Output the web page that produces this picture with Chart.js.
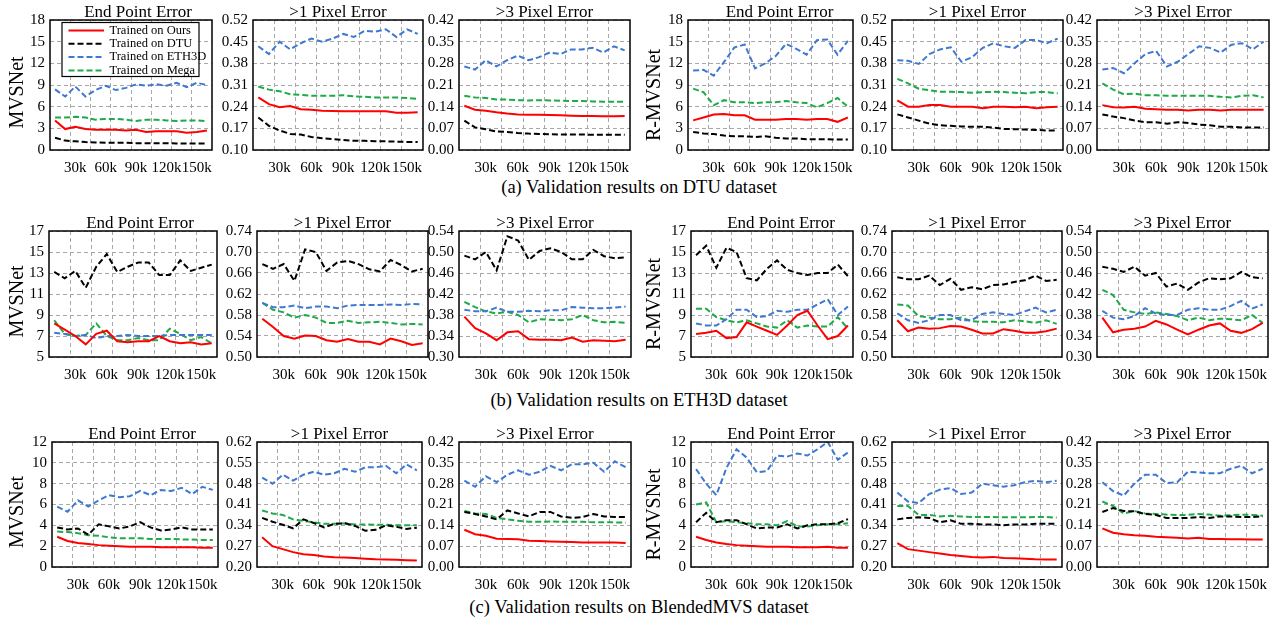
<!DOCTYPE html>
<html>
<head>
<meta charset="utf-8">
<script src="https://cdn.jsdelivr.net/npm/chart.js@4.4.0/dist/chart.umd.min.js"></script>
<style>
  body { margin: 0; background: #fff; width: 1278px; height: 619px; overflow: hidden; position: relative; font-family: "Liberation Serif", serif; }
  canvas { position: absolute; }
  .cap { position: absolute; left: 0; width: 1278px; text-align: center; font-size: 18.5px; line-height: 20px; color: #000; }
</style>
</head>
<body>
<div class="cap" style="top:177px">(a) Validation results on DTU dataset</div>
<div class="cap" style="top:390px">(b) Validation results on ETH3D dataset</div>
<div class="cap" style="top:597px">(c) Validation results on BlendedMVS dataset</div>
<script>
// iterations (k)
const iterations = [10, 20, 30, 40, 50, 60, 70, 80, 90, 100, 110, 120, 130, 140, 150, 160];
const xTickValues = [30, 60, 90, 120, 150];
const xGridValues = [25, 45, 65, 85, 105, 125, 145];

// y tick labels
const ticksEpeDtu = [0, 3, 6, 9, 12, 15, 18];
const ticksPx1Dtu = [0.10, 0.17, 0.24, 0.31, 0.38, 0.45, 0.52];
const ticksPx3Dtu = [0.00, 0.07, 0.14, 0.21, 0.28, 0.35, 0.42];
const ticksEpeEth = [5, 7, 9, 11, 13, 15, 17];
const ticksPx1Eth = [0.50, 0.54, 0.58, 0.62, 0.66, 0.70, 0.74];
const ticksPx3Eth = [0.30, 0.34, 0.38, 0.42, 0.46, 0.50, 0.54];
const ticksEpeBlend = [0, 2, 4, 6, 8, 10, 12];
const ticksPx1Blend = [0.20, 0.27, 0.34, 0.41, 0.48, 0.55, 0.62];
const ticksPx3Blend = [0.00, 0.07, 0.14, 0.21, 0.28, 0.35, 0.42];

const seriesNames = ['Trained on Ours', 'Trained on DTU', 'Trained on ETH3D', 'Trained on Mega'];

// (a) DTU - MVSNet
const dtuMvsEpe_ours  = [4.1, 2.9, 3.2, 2.9, 2.8, 2.8, 2.8, 2.7, 2.8, 2.5, 2.6, 2.6, 2.6, 2.4, 2.5, 2.7];
const dtuMvsEpe_dtu   = [1.7, 1.3, 1.2, 1.1, 1.05, 1.0, 1.0, 1.0, 0.95, 0.95, 0.95, 0.95, 0.9, 0.9, 0.9, 0.9];
const dtuMvsEpe_eth3d = [8.4, 7.4, 8.8, 7.4, 8.3, 8.9, 8.3, 8.6, 9.1, 8.9, 9.1, 8.9, 9.3, 8.7, 9.3, 9.0];
const dtuMvsEpe_mega  = [4.5, 4.5, 4.6, 4.5, 4.2, 4.3, 4.3, 4.2, 4.0, 4.2, 4.2, 4.1, 4.0, 4.1, 4.1, 4.0];
const dtuMvsPx1_ours  = [0.27, 0.248, 0.238, 0.242, 0.232, 0.23, 0.227, 0.226, 0.225, 0.225, 0.225, 0.225, 0.225, 0.22, 0.22, 0.222];
const dtuMvsPx1_dtu   = [0.205, 0.178, 0.163, 0.152, 0.15, 0.142, 0.138, 0.135, 0.132, 0.13, 0.13, 0.128, 0.128, 0.127, 0.126, 0.126];
const dtuMvsPx1_eth3d = [0.435, 0.41, 0.45, 0.425, 0.445, 0.46, 0.45, 0.46, 0.475, 0.465, 0.485, 0.482, 0.49, 0.465, 0.49, 0.475];
const dtuMvsPx1_mega  = [0.305, 0.295, 0.29, 0.28, 0.278, 0.275, 0.275, 0.275, 0.277, 0.273, 0.272, 0.27, 0.27, 0.27, 0.268, 0.265];
const dtuMvsPx3_ours  = [0.143, 0.13, 0.127, 0.122, 0.118, 0.115, 0.114, 0.114, 0.113, 0.112, 0.111, 0.11, 0.11, 0.109, 0.109, 0.11];
const dtuMvsPx3_dtu   = [0.095, 0.073, 0.067, 0.06, 0.058, 0.055, 0.053, 0.052, 0.051, 0.05, 0.05, 0.05, 0.049, 0.049, 0.049, 0.049];
const dtuMvsPx3_eth3d = [0.27, 0.26, 0.29, 0.27, 0.29, 0.305, 0.29, 0.30, 0.315, 0.31, 0.325, 0.325, 0.33, 0.315, 0.335, 0.322];
const dtuMvsPx3_mega  = [0.175, 0.17, 0.168, 0.163, 0.163, 0.161, 0.16, 0.161, 0.16, 0.159, 0.158, 0.158, 0.157, 0.156, 0.156, 0.156];
// (a) DTU - R-MVSNet
const dtuRmvsEpe_ours  = [4.1, 4.5, 4.9, 5.0, 4.8, 4.8, 4.2, 4.2, 4.2, 4.3, 4.3, 4.2, 4.3, 4.3, 3.9, 4.5];
const dtuRmvsEpe_dtu   = [2.5, 2.3, 2.2, 2.0, 1.9, 1.9, 1.8, 1.9, 1.7, 1.6, 1.6, 1.5, 1.5, 1.5, 1.45, 1.45];
const dtuRmvsEpe_eth3d = [11.0, 11.1, 10.3, 12.2, 14.2, 14.6, 11.3, 12.0, 13.0, 14.7, 14.0, 13.2, 15.2, 15.3, 13.2, 15.1];
const dtuRmvsEpe_mega  = [8.5, 8.0, 6.2, 6.9, 6.6, 6.6, 6.5, 6.6, 6.6, 6.8, 6.6, 6.5, 5.9, 6.5, 7.2, 6.0];
const dtuRmvsPx1_ours  = [0.26, 0.24, 0.24, 0.245, 0.245, 0.24, 0.24, 0.24, 0.235, 0.24, 0.24, 0.238, 0.24, 0.235, 0.238, 0.24];
const dtuRmvsPx1_dtu   = [0.215, 0.205, 0.195, 0.185, 0.18, 0.178, 0.176, 0.175, 0.175, 0.172, 0.168, 0.167, 0.166, 0.165, 0.163, 0.163];
const dtuRmvsPx1_eth3d = [0.39, 0.388, 0.378, 0.41, 0.425, 0.432, 0.385, 0.40, 0.43, 0.445, 0.435, 0.43, 0.455, 0.455, 0.445, 0.46];
const dtuRmvsPx1_mega  = [0.33, 0.315, 0.298, 0.293, 0.288, 0.288, 0.287, 0.285, 0.287, 0.288, 0.287, 0.285, 0.283, 0.287, 0.287, 0.283];
const dtuRmvsPx3_ours  = [0.145, 0.138, 0.137, 0.14, 0.133, 0.132, 0.13, 0.13, 0.128, 0.13, 0.13, 0.128, 0.13, 0.13, 0.13, 0.13];
const dtuRmvsPx3_dtu   = [0.115, 0.108, 0.103, 0.095, 0.09, 0.09, 0.085, 0.09, 0.087, 0.082, 0.08, 0.075, 0.075, 0.073, 0.073, 0.073];
const dtuRmvsPx3_eth3d = [0.26, 0.265, 0.248, 0.28, 0.31, 0.32, 0.27, 0.285, 0.31, 0.335, 0.33, 0.315, 0.34, 0.345, 0.325, 0.35];
const dtuRmvsPx3_mega  = [0.215, 0.195, 0.18, 0.182, 0.177, 0.177, 0.175, 0.175, 0.175, 0.175, 0.175, 0.172, 0.17, 0.175, 0.177, 0.17];

// (b) ETH3D - MVSNet
const ethMvsEpe_ours  = [8.2, 7.6, 7.0, 6.2, 7.2, 7.5, 6.5, 6.4, 6.5, 6.5, 7.0, 6.5, 6.3, 6.4, 6.2, 6.3];
const ethMvsEpe_dtu   = [13.1, 12.5, 13.2, 11.6, 13.6, 14.8, 13.1, 13.6, 14.0, 14.0, 12.8, 12.8, 14.2, 13.2, 13.5, 13.8];
const ethMvsEpe_eth3d = [7.3, 7.2, 7.0, 7.1, 6.8, 7.0, 7.0, 7.1, 7.0, 7.0, 7.0, 7.1, 7.1, 7.1, 7.1, 7.1];
const ethMvsEpe_mega  = [8.5, 7.2, 7.0, 7.1, 8.2, 7.0, 6.6, 6.6, 6.8, 6.6, 6.6, 7.7, 7.2, 6.6, 6.9, 6.3];
const ethMvsPx1_ours  = [0.573, 0.557, 0.54, 0.535, 0.541, 0.54, 0.532, 0.529, 0.534, 0.529, 0.529, 0.524, 0.535, 0.53, 0.523, 0.526];
const ethMvsPx1_dtu   = [0.677, 0.668, 0.677, 0.645, 0.705, 0.70, 0.664, 0.68, 0.683, 0.677, 0.667, 0.663, 0.685, 0.675, 0.663, 0.668];
const ethMvsPx1_eth3d = [0.603, 0.595, 0.595, 0.598, 0.593, 0.596, 0.596, 0.593, 0.598, 0.599, 0.599, 0.599, 0.60, 0.599, 0.601, 0.60];
const ethMvsPx1_mega  = [0.603, 0.59, 0.585, 0.575, 0.58, 0.575, 0.565, 0.565, 0.569, 0.565, 0.566, 0.567, 0.565, 0.562, 0.563, 0.562];
const ethMvsPx3_ours  = [0.377, 0.355, 0.345, 0.332, 0.347, 0.349, 0.334, 0.333, 0.333, 0.332, 0.337, 0.329, 0.332, 0.331, 0.33, 0.333];
const ethMvsPx3_dtu   = [0.493, 0.486, 0.50, 0.465, 0.53, 0.522, 0.485, 0.502, 0.507, 0.50, 0.486, 0.486, 0.504, 0.492, 0.488, 0.49];
const ethMvsPx3_eth3d = [0.39, 0.387, 0.387, 0.394, 0.386, 0.386, 0.388, 0.387, 0.389, 0.389, 0.395, 0.394, 0.393, 0.393, 0.394, 0.396];
const ethMvsPx3_mega  = [0.405, 0.395, 0.387, 0.383, 0.386, 0.38, 0.366, 0.372, 0.371, 0.37, 0.372, 0.38, 0.37, 0.366, 0.367, 0.365];
// (b) ETH3D - R-MVSNet
const ethRmvsEpe_ours  = [7.2, 7.3, 7.5, 6.8, 6.9, 8.3, 7.9, 7.5, 7.1, 8.0, 9.0, 9.4, 8.0, 6.7, 7.0, 8.0];
const ethRmvsEpe_dtu   = [14.7, 15.6, 13.5, 15.4, 15.0, 12.5, 12.3, 13.4, 14.2, 13.3, 13.0, 12.8, 13.0, 13.0, 13.8, 12.7];
const ethRmvsEpe_eth3d = [8.2, 8.0, 8.0, 8.6, 9.5, 9.5, 8.8, 8.9, 9.4, 9.3, 9.5, 9.5, 10.0, 10.5, 9.0, 9.8];
const ethRmvsEpe_mega  = [9.6, 9.6, 8.8, 8.5, 8.3, 8.5, 8.2, 7.9, 7.8, 8.5, 7.8, 8.0, 7.9, 7.9, 8.8, 7.7];
const ethRmvsPx1_ours  = [0.57, 0.549, 0.556, 0.554, 0.555, 0.559, 0.558, 0.552, 0.545, 0.545, 0.553, 0.55, 0.546, 0.546, 0.549, 0.554];
const ethRmvsPx1_dtu   = [0.652, 0.648, 0.648, 0.655, 0.637, 0.649, 0.628, 0.633, 0.629, 0.637, 0.638, 0.643, 0.646, 0.655, 0.645, 0.647];
const ethRmvsPx1_eth3d = [0.583, 0.57, 0.565, 0.57, 0.58, 0.58, 0.57, 0.57, 0.582, 0.585, 0.582, 0.58, 0.587, 0.594, 0.585, 0.59];
const ethRmvsPx1_mega  = [0.60, 0.598, 0.578, 0.575, 0.572, 0.572, 0.575, 0.568, 0.567, 0.567, 0.566, 0.57, 0.568, 0.565, 0.57, 0.563];
const ethRmvsPx3_ours  = [0.375, 0.347, 0.352, 0.354, 0.358, 0.369, 0.362, 0.352, 0.343, 0.352, 0.36, 0.364, 0.35, 0.346, 0.353, 0.365];
const ethRmvsPx3_dtu   = [0.472, 0.468, 0.462, 0.472, 0.455, 0.46, 0.434, 0.44, 0.428, 0.442, 0.45, 0.448, 0.45, 0.462, 0.452, 0.45];
const ethRmvsPx3_eth3d = [0.388, 0.375, 0.372, 0.378, 0.393, 0.383, 0.38, 0.38, 0.39, 0.393, 0.39, 0.39, 0.397, 0.407, 0.392, 0.40];
const ethRmvsPx3_mega  = [0.428, 0.418, 0.39, 0.385, 0.382, 0.385, 0.382, 0.378, 0.37, 0.375, 0.37, 0.373, 0.372, 0.37, 0.38, 0.365];

// (c) BlendedMVS - MVSNet
const blendMvsEpe_ours  = [2.9, 2.5, 2.3, 2.2, 2.1, 2.05, 2.0, 1.95, 1.95, 1.95, 1.9, 1.9, 1.9, 1.9, 1.85, 1.85];
const blendMvsEpe_dtu   = [3.8, 3.6, 3.7, 3.1, 4.1, 3.9, 3.7, 3.9, 4.3, 3.8, 3.5, 3.6, 3.8, 3.6, 3.6, 3.6];
const blendMvsEpe_eth3d = [5.8, 5.3, 6.4, 5.8, 6.4, 6.9, 6.7, 6.8, 7.3, 6.9, 7.4, 7.3, 7.6, 7.0, 7.7, 7.4];
const blendMvsEpe_mega  = [3.4, 3.35, 3.25, 3.05, 3.0, 2.85, 2.75, 2.75, 2.75, 2.7, 2.7, 2.7, 2.65, 2.65, 2.6, 2.6];
const blendMvsPx1_ours  = [0.30, 0.27, 0.26, 0.25, 0.243, 0.24, 0.235, 0.233, 0.232, 0.23, 0.228, 0.226, 0.225, 0.224, 0.223, 0.222];
const blendMvsPx1_dtu   = [0.365, 0.352, 0.342, 0.33, 0.36, 0.348, 0.333, 0.345, 0.347, 0.338, 0.322, 0.325, 0.34, 0.335, 0.328, 0.332];
const blendMvsPx1_eth3d = [0.50, 0.48, 0.51, 0.49, 0.51, 0.52, 0.51, 0.515, 0.53, 0.52, 0.535, 0.535, 0.54, 0.515, 0.545, 0.525];
const blendMvsPx1_mega  = [0.39, 0.38, 0.375, 0.36, 0.355, 0.35, 0.345, 0.345, 0.347, 0.343, 0.343, 0.342, 0.342, 0.34, 0.34, 0.34];
const blendMvsPx3_ours  = [0.125, 0.11, 0.105, 0.095, 0.094, 0.093, 0.088, 0.087, 0.086, 0.085, 0.084, 0.082, 0.082, 0.082, 0.082, 0.081];
const blendMvsPx3_dtu   = [0.185, 0.178, 0.17, 0.16, 0.19, 0.18, 0.17, 0.185, 0.185, 0.17, 0.165, 0.168, 0.178, 0.17, 0.168, 0.168];
const blendMvsPx3_eth3d = [0.29, 0.27, 0.305, 0.285, 0.31, 0.325, 0.31, 0.32, 0.34, 0.325, 0.345, 0.345, 0.35, 0.32, 0.355, 0.335];
const blendMvsPx3_mega  = [0.188, 0.18, 0.178, 0.165, 0.16, 0.155, 0.152, 0.152, 0.153, 0.152, 0.152, 0.152, 0.15, 0.15, 0.15, 0.149];
// (c) BlendedMVS - R-MVSNet
const blendRmvsEpe_ours  = [2.9, 2.6, 2.35, 2.2, 2.1, 2.05, 2.0, 1.95, 1.95, 1.95, 1.9, 1.9, 1.9, 1.95, 1.85, 1.85];
const blendRmvsEpe_dtu   = [4.3, 5.2, 4.3, 4.5, 4.5, 4.1, 3.7, 3.8, 3.8, 4.1, 3.7, 4.0, 4.1, 4.1, 4.2, 4.6];
const blendRmvsEpe_eth3d = [9.4, 8.0, 6.9, 9.5, 11.3, 10.5, 9.1, 9.2, 10.7, 10.6, 10.9, 10.7, 11.3, 12.0, 10.3, 11.0];
const blendRmvsEpe_mega  = [6.0, 6.2, 4.3, 4.4, 4.3, 4.2, 4.1, 4.1, 4.0, 4.4, 3.9, 3.9, 4.0, 4.1, 4.1, 4.2];
const blendRmvsPx1_ours  = [0.28, 0.26, 0.255, 0.25, 0.245, 0.24, 0.237, 0.234, 0.232, 0.234, 0.23, 0.229, 0.228, 0.226, 0.225, 0.225];
const blendRmvsPx1_dtu   = [0.36, 0.365, 0.367, 0.365, 0.35, 0.357, 0.345, 0.345, 0.343, 0.343, 0.34, 0.343, 0.343, 0.345, 0.345, 0.345];
const blendRmvsPx1_eth3d = [0.45, 0.42, 0.415, 0.445, 0.46, 0.465, 0.445, 0.45, 0.48, 0.475, 0.47, 0.475, 0.485, 0.49, 0.485, 0.49];
const blendRmvsPx1_mega  = [0.405, 0.405, 0.375, 0.375, 0.37, 0.372, 0.37, 0.368, 0.368, 0.368, 0.367, 0.367, 0.367, 0.368, 0.368, 0.366];
const blendRmvsPx3_ours  = [0.13, 0.115, 0.11, 0.107, 0.105, 0.102, 0.1, 0.098, 0.096, 0.098, 0.094, 0.094, 0.093, 0.093, 0.092, 0.092];
const blendRmvsPx3_dtu   = [0.185, 0.198, 0.188, 0.187, 0.178, 0.175, 0.165, 0.165, 0.165, 0.168, 0.165, 0.17, 0.17, 0.168, 0.168, 0.17];
const blendRmvsPx3_eth3d = [0.285, 0.255, 0.24, 0.28, 0.31, 0.31, 0.282, 0.285, 0.32, 0.318, 0.315, 0.315, 0.33, 0.34, 0.315, 0.33];
const blendRmvsPx3_mega  = [0.22, 0.205, 0.18, 0.188, 0.18, 0.178, 0.176, 0.175, 0.175, 0.178, 0.176, 0.172, 0.174, 0.176, 0.175, 0.172];

// plot area placement on the page
const rowTop = [20, 231, 442];
const rowBottom = [150, 357, 567];
const colLeft = [[50, 253, 459, 688, 892, 1097], [49, 257, 459, 691, 892, 1097], [52, 257, 459, 691, 892, 1097]];
const colRight = [[212, 423, 630, 853, 1063, 1269], [217, 428, 631, 853, 1062, 1268], [218, 422, 631, 853, 1062, 1268]];
const titleShift = [7, 0, 0, 9, 0, 0];

const serif = '"Liberation Serif", "Times New Roman", serif';
const lineColors = ['#ff0000', '#000000', '#3f78d2', '#1faa48'];
const lineDashes = [[], [6, 3], [6, 3], [6, 3]];

const panels = [
  { row: 0, col: 0, title: 'End Point Error', yTitle: 'MVSNet', ticks: ticksEpeDtu, legend: true,
    series: [dtuMvsEpe_ours, dtuMvsEpe_dtu, dtuMvsEpe_eth3d, dtuMvsEpe_mega] },
  { row: 0, col: 1, title: '>1 Pixel Error', ticks: ticksPx1Dtu, series: [dtuMvsPx1_ours, dtuMvsPx1_dtu, dtuMvsPx1_eth3d, dtuMvsPx1_mega] },
  { row: 0, col: 2, title: '>3 Pixel Error', ticks: ticksPx3Dtu, series: [dtuMvsPx3_ours, dtuMvsPx3_dtu, dtuMvsPx3_eth3d, dtuMvsPx3_mega] },
  { row: 0, col: 3, title: 'End Point Error', yTitle: 'R-MVSNet', ticks: ticksEpeDtu, series: [dtuRmvsEpe_ours, dtuRmvsEpe_dtu, dtuRmvsEpe_eth3d, dtuRmvsEpe_mega] },
  { row: 0, col: 4, title: '>1 Pixel Error', ticks: ticksPx1Dtu, series: [dtuRmvsPx1_ours, dtuRmvsPx1_dtu, dtuRmvsPx1_eth3d, dtuRmvsPx1_mega] },
  { row: 0, col: 5, title: '>3 Pixel Error', ticks: ticksPx3Dtu, series: [dtuRmvsPx3_ours, dtuRmvsPx3_dtu, dtuRmvsPx3_eth3d, dtuRmvsPx3_mega] },

  { row: 1, col: 0, title: 'End Point Error', yTitle: 'MVSNet', ticks: ticksEpeEth, series: [ethMvsEpe_ours, ethMvsEpe_dtu, ethMvsEpe_eth3d, ethMvsEpe_mega] },
  { row: 1, col: 1, title: '>1 Pixel Error', ticks: ticksPx1Eth, series: [ethMvsPx1_ours, ethMvsPx1_dtu, ethMvsPx1_eth3d, ethMvsPx1_mega] },
  { row: 1, col: 2, title: '>3 Pixel Error', ticks: ticksPx3Eth, series: [ethMvsPx3_ours, ethMvsPx3_dtu, ethMvsPx3_eth3d, ethMvsPx3_mega] },
  { row: 1, col: 3, title: 'End Point Error', yTitle: 'R-MVSNet', ticks: ticksEpeEth, series: [ethRmvsEpe_ours, ethRmvsEpe_dtu, ethRmvsEpe_eth3d, ethRmvsEpe_mega] },
  { row: 1, col: 4, title: '>1 Pixel Error', ticks: ticksPx1Eth, series: [ethRmvsPx1_ours, ethRmvsPx1_dtu, ethRmvsPx1_eth3d, ethRmvsPx1_mega] },
  { row: 1, col: 5, title: '>3 Pixel Error', ticks: ticksPx3Eth, series: [ethRmvsPx3_ours, ethRmvsPx3_dtu, ethRmvsPx3_eth3d, ethRmvsPx3_mega] },

  { row: 2, col: 0, title: 'End Point Error', yTitle: 'MVSNet', ticks: ticksEpeBlend, series: [blendMvsEpe_ours, blendMvsEpe_dtu, blendMvsEpe_eth3d, blendMvsEpe_mega] },
  { row: 2, col: 1, title: '>1 Pixel Error', ticks: ticksPx1Blend, series: [blendMvsPx1_ours, blendMvsPx1_dtu, blendMvsPx1_eth3d, blendMvsPx1_mega] },
  { row: 2, col: 2, title: '>3 Pixel Error', ticks: ticksPx3Blend, series: [blendMvsPx3_ours, blendMvsPx3_dtu, blendMvsPx3_eth3d, blendMvsPx3_mega] },
  { row: 2, col: 3, title: 'End Point Error', yTitle: 'R-MVSNet', ticks: ticksEpeBlend, series: [blendRmvsEpe_ours, blendRmvsEpe_dtu, blendRmvsEpe_eth3d, blendRmvsEpe_mega] },
  { row: 2, col: 4, title: '>1 Pixel Error', ticks: ticksPx1Blend, series: [blendRmvsPx1_ours, blendRmvsPx1_dtu, blendRmvsPx1_eth3d, blendRmvsPx1_mega] },
  { row: 2, col: 5, title: '>3 Pixel Error', ticks: ticksPx3Blend, series: [blendRmvsPx3_ours, blendRmvsPx3_dtu, blendRmvsPx3_eth3d, blendRmvsPx3_mega] },
];

// black box round the plot area
const frameBox = {
  id: 'frameBox',
  afterDatasetsDraw(chart) {
    const a = chart.chartArea, ctx = chart.ctx;
    ctx.save();
    ctx.strokeStyle = '#000';
    ctx.lineWidth = 1.5;
    ctx.strokeRect(a.left, a.top, a.right - a.left, a.bottom - a.top);
    ctx.restore();
  }
};

// framed legend inside the first panel
const boxLegend = {
  id: 'boxLegend',
  afterDatasetsDraw(chart) {
    const a = chart.chartArea, ctx = chart.ctx;
    const x0 = a.left + 12, y0 = a.top + 2.5, w = 137, h = 54;
    ctx.save();
    ctx.fillStyle = '#fff';
    ctx.fillRect(x0, y0, w, h);
    ctx.strokeStyle = '#000';
    ctx.lineWidth = 1.2;
    ctx.strokeRect(x0, y0, w, h);
    chart.data.datasets.forEach((ds, k) => {
      const y = y0 + 8 + k * 13.3;
      ctx.strokeStyle = ds.borderColor;
      ctx.lineWidth = ds.borderWidth;
      ctx.setLineDash(ds.borderDash);
      ctx.beginPath();
      ctx.moveTo(x0 + 6.5, y);
      ctx.lineTo(x0 + 42, y);
      ctx.stroke();
      ctx.setLineDash([]);
      ctx.fillStyle = '#000';
      ctx.font = '12.5px ' + serif;
      ctx.textBaseline = 'middle';
      ctx.fillText(ds.label, x0 + 47.5, y);
    });
    ctx.restore();
  }
};

function makePanel(p) {
  const left = colLeft[p.row][p.col], right = colRight[p.row][p.col];
  const top = rowTop[p.row], bottom = rowBottom[p.row];
  const lm = 48, rm = 48 + 2 * titleShift[p.col], tm = 24, bm = 30;
  const w = right - left + lm + rm, h = bottom - top + tm + bm;
  const cv = document.createElement('canvas');
  cv.width = w; cv.height = h;
  cv.style.left = (left - lm) + 'px';
  cv.style.top = (top - tm) + 'px';
  cv.style.width = w + 'px';
  cv.style.height = h + 'px';
  document.body.appendChild(cv);

  const tks = p.ticks;
  const dec = tks.some(v => v % 1 !== 0) ? 2 : 0;
  const yTitlePad = p.yTitle ? (p.col === 0 ? 18 : 655) - (left - lm) - 10 : 0;
  // the reference puts the side label a little below the middle of the axis
  const yTitleText = p.yTitle ? p.yTitle + (p.col === 0 ? '   ' : '    ') : '';
  const tickFont = { family: serif, size: 15 };

  new Chart(cv, {
    type: 'line',
    data: {
      datasets: p.series.map((vals, k) => ({
        label: seriesNames[k],
        data: vals.map((v, i) => ({ x: iterations[i], y: v })),
        borderColor: lineColors[k],
        borderDash: lineDashes[k],
        borderWidth: 2,
        pointRadius: 0,
        tension: 0,
        fill: false
      }))
    },
    options: {
      responsive: false,
      animation: false,
      devicePixelRatio: 1,
      layout: { padding: 0 },
      plugins: {
        legend: { display: false },
        tooltip: { enabled: false },
        title: {
          display: true,
          text: p.title,
          color: '#000',
          font: { family: serif, size: 17, weight: 'normal', lineHeight: '15px' },
          padding: { top: 9, bottom: 0 }
        }
      },
      scales: {
        x: {
          type: 'linear', min: 5, max: 165,
          afterBuildTicks: s => { s.ticks = xTickValues.map(v => ({ value: v })); },
          afterFit: s => { s.height = bm; },
          grid: { display: false, drawTicks: false },
          border: { display: false },
          ticks: { autoSkip: false, maxRotation: 0, minRotation: 0, padding: 9, color: '#000', font: tickFont, callback: v => v + 'k' }
        },
        xg: {
          type: 'linear', position: 'bottom', min: 5, max: 165,
          afterBuildTicks: s => { s.ticks = xGridValues.map(v => ({ value: v })); },
          afterFit: s => { s.height = 0; },
          ticks: { display: false },
          grid: { color: '#a8a8a8', lineWidth: 1, drawTicks: false },
          border: { display: false, dash: [4, 3] }
        },
        y: {
          min: tks[0], max: tks[tks.length - 1],
          afterBuildTicks: s => { s.ticks = tks.map(v => ({ value: v })); },
          afterFit: s => { s.width = lm; },
          grid: { color: '#a8a8a8', lineWidth: 1, drawTicks: false },
          border: { display: false, dash: [4, 3] },
          ticks: { autoSkip: false, padding: 5, color: '#000', font: tickFont, callback: v => v.toFixed(dec) },
          title: {
            display: !!p.yTitle, text: yTitleText, color: '#000',
            font: { family: serif, size: 20, lineHeight: 1 },
            padding: { top: yTitlePad, bottom: 0 }
          }
        },
        yr: {
          type: 'linear', position: 'right',
          afterFit: s => { s.width = rm; },
          grid: { display: false, drawTicks: false },
          ticks: { display: false },
          border: { display: false }
        }
      }
    },
    plugins: p.legend ? [frameBox, boxLegend] : [frameBox]
  });
}

panels.forEach(makePanel);
</script>
</body>
</html>
